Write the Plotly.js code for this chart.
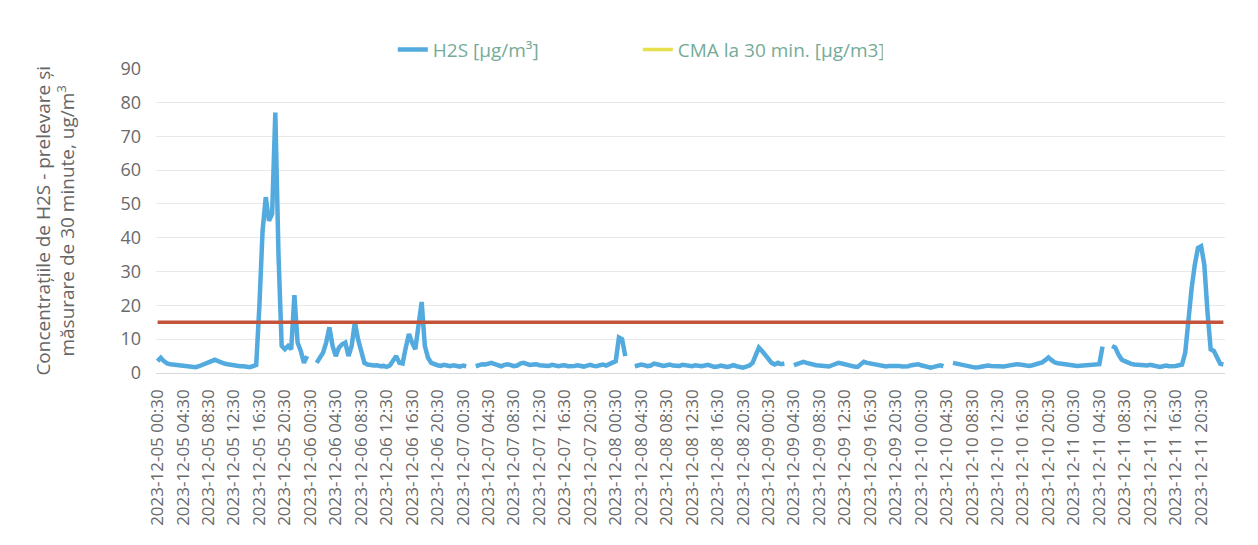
<!DOCTYPE html>
<html>
<head>
<meta charset="utf-8">
<script src="https://cdn.plot.ly/plotly-3.0.1.min.js"></script>
<style>html,body{margin:0;padding:0;background:#fff;}#chart{width:1258px;height:545px;}</style>
</head>
<body>
<div id="chart"></div>
<script>
// Time axis: 30-minute samples starting 2023-12-05 00:30
const startTimeUTC = Date.UTC(2023, 11, 5, 0, 30);
const stepMinutes = 30;

// H2S concentrations [µg/m³], 30-minute values, null = missing sample
const h2sDay05 = [3.5,4.5,3.5,2.8,2.6,2.5,2.4,2.4,2.2,2.0,2.0,1.8,1.7,2.0,2.4,2.6,3.2,3.5,3.9,3.5,3.0,2.8,2.6,2.4,2.4,2.2,2.0,2.0,1.8,1.7,2.0,2.4,20,42,52,45,47,77,35,8,7,8,7,23,9,6.5,3,5,null,null];
const h2sDay06 = [3,4.5,6,9,13.5,8,5,7.5,8.5,9,5,8,15,10,6,3,2.5,2.3,2.2,2.3,2.0,2.1,1.8,2.2,3.5,5,3,2.8,7.5,11.5,9,7,14,21,8,4.5,3,2.5,2.3,2.1,2.4,2.2,2.0,2.3,2.1,1.9,2.2,2.0,null,null];
const h2sDay07 = [2.0,2.3,2.6,2.5,2.8,3.0,2.6,2.2,2.0,2.4,2.6,2.3,2.0,2.2,2.8,3.0,2.6,2.4,2.5,2.6,2.3,2.2,2.0,2.1,2.4,2.2,2.0,2.2,2.3,2.0,1.9,2.1,2.3,2.0,1.9,2.2,2.4,2.1,2.0,2.3,2.5,2.2,2.6,3.2,3.5,10.5,10,5,null,null];
const h2sDay08 = [2.0,2.2,2.5,2.3,2.0,2.2,2.8,2.6,2.3,2.1,2.3,2.5,2.2,2.0,2.1,2.4,2.2,1.9,2.0,2.3,2.1,2.0,2.2,2.4,2.1,1.8,1.9,2.2,2.0,1.8,2.0,2.3,2.0,1.7,1.6,1.9,2.2,3.0,5.5,7.5,6.5,5.2,4.0,3.0,2.5,3.0,2.6,2.8,null,null];
const h2sDay09 = [2.3,2.6,3.0,3.3,3.0,2.7,2.5,2.3,2.2,2.0,1.8,1.9,2.3,2.7,3.0,2.8,2.5,2.3,2.0,1.9,1.8,2.5,3.3,3.0,2.8,2.5,2.2,2.0,1.8,1.9,2.1,2.2,2.3,2.1,1.9,1.8,2.0,2.3,2.5,2.6,2.3,2.0,1.8,1.6,1.8,2.1,2.3,2.0,null,null];
const h2sDay10 = [3.0,2.8,2.6,2.3,2.1,1.9,1.7,1.6,1.7,1.9,2.1,2.2,2.1,2.0,1.9,1.9,1.9,2.1,2.3,2.5,2.6,2.5,2.3,2.1,2.1,2.3,2.5,2.8,3.1,3.8,4.6,3.8,3.1,2.9,2.7,2.6,2.4,2.3,2.2,2.1,2.2,2.3,2.3,2.3,2.4,2.5,2.6,7.8,null,null];
const h2sDay11 = [8,7.5,5.5,4,3.5,3,2.7,2.5,2.4,2.2,2.0,2.2,2.4,2.2,2.0,1.8,2.0,2.2,2.0,1.9,2.1,2.3,2.5,6,16,25,32,37,37.5,32,18,7,6.5,4.5,2.7,2.5];
const h2sValues = [].concat(h2sDay05, h2sDay06, h2sDay07, h2sDay08, h2sDay09, h2sDay10, h2sDay11);

// Maximum admissible concentration (CMA) for 30 minutes [µg/m3]
const cmaLimit = 15;

// Labels
const seriesNames = ['H2S [µg/m³]', 'CMA la 30 min. [µg/m3]'];
const yTitle = 'Concentrațiile de H2S - prelevare și<br>măsurare de 30 minute, ug/m<sup>3</sup>';
const yTickValues = [0,10,20,30,40,50,60,70,80,90];

function fmt(ms) {
  return new Date(ms).toISOString().slice(0,16).replace('T',' ');
}
const times = h2sValues.map((_, i) => fmt(startTimeUTC + i * stepMinutes * 60000));
const cmaValues = times.map(() => cmaLimit);
const half = stepMinutes * 30000;

const traces = [
  {
    x: times, y: h2sValues, type: 'scatter', mode: 'lines',
    name: seriesNames[0], connectgaps: false,
    line: {color: '#52aade', width: 4.5, shape: 'linear'}
  },
  {
    x: times, y: cmaValues, type: 'scatter', mode: 'lines',
    name: seriesNames[1], showlegend: false, hoverinfo: 'skip',
    line: {color: '#c4533c', width: 3.5}
  },
  {
    x: [times[0]], y: [null], type: 'scatter', mode: 'lines',
    name: seriesNames[1], line: {color: '#e6e04c', width: 3.5}
  }
];

const layout = {
  width: 1258, height: 545,
  margin: {l: 156, r: 33, t: 68, b: 172},
  paper_bgcolor: '#ffffff', plot_bgcolor: '#ffffff',
  font: {family: 'Open Sans, sans-serif', color: '#6a6a6a'},
  showlegend: true,
  legend: {
    orientation: 'h', xref: 'container', yref: 'container',
    x: 0.507, xanchor: 'center', y: 0.909, yanchor: 'middle',
    font: {size: 19, color: '#74ab98'}, entrywidth: 200, traceorder: 'normal'
  },
  xaxis: {
    type: 'date',
    range: [fmt(startTimeUTC - half), fmt(startTimeUTC + (times.length - 1) * stepMinutes * 60000 + half)],
    tick0: fmt(startTimeUTC), dtick: 4 * 3600 * 1000,
    tickformat: '%Y-%m-%d %H:%M', tickangle: -90,
    tickfont: {size: 17, color: '#6a6a6a'},
    showgrid: false, zeroline: false, showline: false,
    ticks: '', ticklabelstandoff: 12, automargin: false
  },
  yaxis: {
    range: [0, 90], tickvals: yTickValues, ticktext: yTickValues.map(String),
    tickfont: {size: 18, color: '#6a6a6a'},
    showgrid: true, gridcolor: '#e8e8e8', gridwidth: 1,
    zeroline: true, zerolinecolor: '#d9d9d9', showline: false,
    ticks: '', ticklabelstandoff: 14, automargin: false,
    title: {text: yTitle, font: {size: 19, color: '#666666'}, standoff: 40}
  }
};

Plotly.newPlot('chart', traces, layout, {displayModeBar: false, staticPlot: true});
</script>
</body>
</html>
